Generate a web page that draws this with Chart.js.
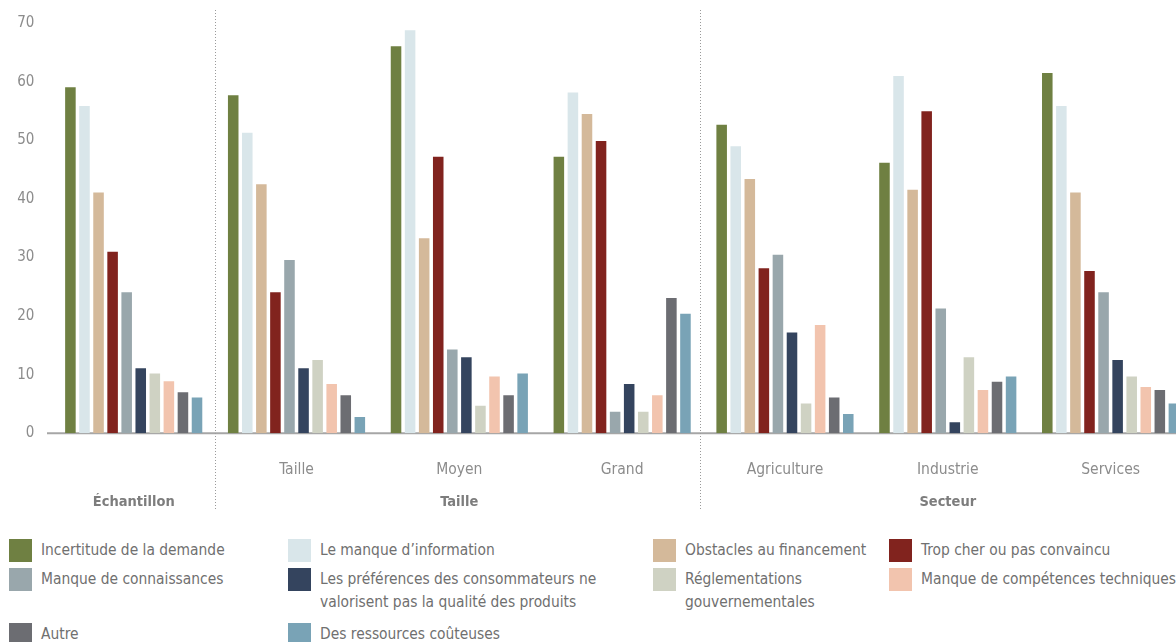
<!DOCTYPE html>
<html>
<head>
  <meta charset="utf-8">
  <title>Obstacles</title>
  <script src="https://cdn.jsdelivr.net/npm/chart.js"></script>
  <style>
    body { margin: 0; background: #fff; overflow: hidden; width: 1176px; height: 642px;
           font-family: "DejaVu Sans Condensed", "Liberation Sans Narrow", sans-serif; }
    #chart { position: absolute; left: 0; top: 0; }
    #legend { position: absolute; left: 9px; top: 539px; width: 1200px;
              display: grid; grid-template-columns: 279px 365px 236px auto;
              grid-template-rows: 29px 55px 23px; }
    .item { display: flex; align-items: flex-start; font-size: 15.4px; line-height: 23px; color: #707070; white-space: nowrap; }
    .sw { width: 23px; height: 23px; flex: none; margin-right: 9px; }
  </style>
</head>
<body>
<canvas id="chart" width="1194" height="520"></canvas>
<div id="legend"></div>

<script>
  // groups along the x axis
  const subLabels = ['', 'Taille', 'Moyen', 'Grand', 'Agriculture', 'Industrie', 'Services'];
  const groupLabels = ['Échantillon', '', 'Taille', '', '', 'Secteur', ''];

  // one array per obstacle, in group order
  const incertitude     = [59.1, 57.7, 66.1, 47.2, 52.7, 46.2, 61.5];
  const manqueInfo      = [55.9, 51.3, 68.8, 58.2, 49.0, 61.0, 55.9];
  const financement     = [41.1, 42.5, 33.3, 54.5, 43.4, 41.6, 41.1];
  const tropCher        = [31.0, 24.1, 47.2, 49.9, 28.2, 55.0, 27.7];
  const connaissances   = [24.1, 29.6, 14.3, 3.7, 30.5, 21.3, 24.1];
  const preferences     = [11.1, 11.1, 13.0, 8.4, 17.2, 1.9, 12.5];
  const reglementations = [10.2, 12.5, 4.7, 3.7, 5.1, 13.0, 9.7];
  const competences     = [8.9, 8.4, 9.7, 6.5, 18.5, 7.4, 7.9];
  const autre           = [7.0, 6.5, 6.5, 23.1, 6.1, 8.8, 7.4];
  const ressources      = [6.1, 2.8, 10.2, 20.4, 3.3, 9.7, 5.1];

  const seriesNames = [
    'Incertitude de la demande',
    'Le manque d’information',
    'Obstacles au financement',
    'Trop cher ou pas convaincu',
    'Manque de connaissances',
    'Les préférences des consommateurs ne<br>valorisent pas la qualité des produits',
    'Réglementations<br>gouvernementales',
    'Manque de compétences techniques',
    'Autre',
    'Des ressources coûteuses'
  ];
  const seriesData = [incertitude, manqueInfo, financement, tropCher, connaissances,
                      preferences, reglementations, competences, autre, ressources];
  const colours = ['#6f8042', '#d9e6ea', '#d4b99a', '#81231e', '#99a7ac',
                   '#34445e', '#cfd2c3', '#f2c4ae', '#6c6d72', '#79a3b6'];

  const FONT = '"DejaVu Sans Condensed", "Liberation Sans Narrow", sans-serif';

  // baseline + dotted separators between the three blocks
  const decor = {
    id: 'decor',
    beforeDatasetsDraw(chart) {
      const ctx = chart.ctx, x = chart.scales.x, y = chart.scales.y;
      const y0 = y.getPixelForValue(0);
      ctx.save();
      ctx.strokeStyle = '#a6a6a6';
      ctx.lineWidth = 2;
      ctx.beginPath();
      ctx.moveTo(47, y0);
      ctx.lineTo(chart.width, y0);
      ctx.stroke();
      ctx.strokeStyle = '#9a9a9a';
      ctx.lineWidth = 1;
      ctx.setLineDash([1, 2]);
      [0.5, 3.48].forEach(v => {
        const px = Math.round(x.getPixelForValue(v)) + 0.5;
        ctx.beginPath();
        ctx.moveTo(px, 10);
        ctx.lineTo(px, 511);
        ctx.stroke();
      });
      ctx.restore();
    }
  };

  new Chart(document.getElementById('chart'), {
    type: 'bar',
    data: {
      labels: subLabels,
      datasets: seriesData.map((d, i) => ({
        label: seriesNames[i].replace('<br>', ' '),
        data: d,
        backgroundColor: colours[i],
        borderWidth: 0,
        barPercentage: 0.75,
        categoryPercentage: 0.864
      }))
    },
    options: {
      responsive: false,
      animation: false,
      layout: { padding: { top: 23.3, right: 2, bottom: 0, left: 0 } },
      plugins: { legend: { display: false }, tooltip: { enabled: false } },
      scales: {
        y: {
          min: 0, max: 70,
          ticks: { stepSize: 10, color: '#8c8c8c', padding: 18, font: { family: FONT, size: 15 } },
          grid: { display: false, drawTicks: false },
          border: { display: false },
          afterFit(s) { s.width = 52.3; s.paddingTop = 0; s.paddingBottom = 0; }
        },
        x: {
          weight: 0,
          ticks: { color: '#8c8c8c', padding: 27, maxRotation: 0, autoSkip: false, font: { family: FONT, size: 15.5 } },
          grid: { display: false, drawTicks: false },
          border: { display: false },
          afterFit(s) { s.height = 45; }
        },
        x2: {
          type: 'category',
          position: 'bottom',
          weight: 1,
          labels: groupLabels,
          offset: true,
          ticks: { color: '#7d7d7d', padding: 15, maxRotation: 0, autoSkip: false, font: { family: FONT, size: 14.5, weight: 'bold' } },
          grid: { display: false, drawTicks: false },
          border: { display: false },
          afterFit(s) { s.height = 41.7; }
        }
      }
    },
    plugins: [decor]
  });

  // legend in four columns below the chart
  document.getElementById('legend').innerHTML = seriesNames.map((n, i) =>
    '<div class="item"><span class="sw" style="background:' + colours[i] + '"></span><span>' + n + '</span></div>'
  ).join('');
</script>
</body>
</html>
